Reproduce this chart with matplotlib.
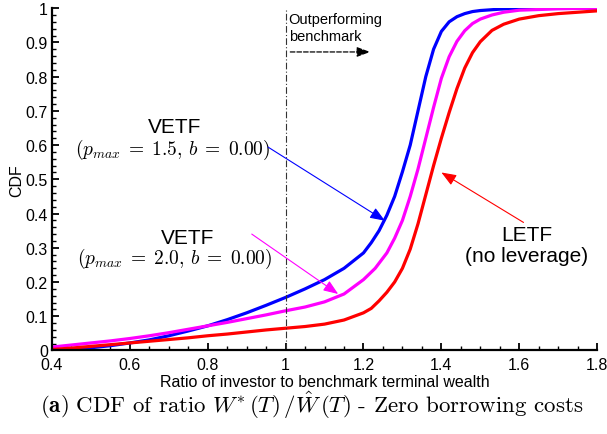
import numpy as np
import matplotlib
matplotlib.use("Agg")
import matplotlib.pyplot as plt
from matplotlib.ticker import MultipleLocator, FormatStrFormatter

plt.rcParams['font.family'] = ['Liberation Sans', 'DejaVu Sans']
plt.rcParams['mathtext.fontset'] = 'cm'

# Data
x_vetf15 = [0.4, 0.45, 0.5, 0.55, 0.6, 0.65, 0.7, 0.75, 0.8, 0.85, 0.9, 0.95, 1.0, 1.05,
            1.1, 1.15, 1.2, 1.22, 1.24, 1.26, 1.28, 1.3, 1.32, 1.34, 1.36, 1.38, 1.4,
            1.42, 1.44, 1.46, 1.48, 1.5, 1.55, 1.6, 1.7, 1.8]
y_vetf15 = [0.0, 0.003, 0.008, 0.014, 0.022, 0.031, 0.043, 0.057, 0.072, 0.09, 0.11,
            0.132, 0.155, 0.18, 0.207, 0.24, 0.285, 0.315, 0.35, 0.395, 0.45, 0.522, 0.60,
            0.70, 0.80, 0.88, 0.932, 0.96, 0.975, 0.984, 0.99, 0.993, 0.997, 0.999, 1.0, 1.0]

x_vetf20 = [0.4, 0.45, 0.5, 0.55, 0.6, 0.65, 0.7, 0.75, 0.8, 0.85, 0.9, 0.95, 1.0, 1.05,
            1.1, 1.15, 1.2, 1.23, 1.26, 1.28, 1.3, 1.32, 1.34, 1.36, 1.38, 1.4, 1.42,
            1.44, 1.46, 1.48, 1.5, 1.53, 1.56, 1.6, 1.7, 1.8]
y_vetf20 = [0.01, 0.016, 0.022, 0.028, 0.035, 0.043, 0.052, 0.062, 0.072, 0.082, 0.093,
            0.104, 0.116, 0.127, 0.142, 0.165, 0.207, 0.24, 0.285, 0.328, 0.38, 0.45, 0.53,
            0.62, 0.71, 0.795, 0.858, 0.903, 0.934, 0.955, 0.968, 0.98, 0.988, 0.994,
            0.998, 1.0]

x_letf = [0.4, 0.45, 0.5, 0.55, 0.6, 0.65, 0.7, 0.75, 0.8, 0.85, 0.9, 0.95, 1.0, 1.05,
          1.1, 1.15, 1.2, 1.22, 1.24, 1.26, 1.28, 1.3, 1.32, 1.34, 1.36, 1.38, 1.4, 1.42,
          1.44, 1.46, 1.48, 1.5, 1.53, 1.56, 1.6, 1.65, 1.7, 1.8]
y_letf = [0.003, 0.007, 0.012, 0.017, 0.022, 0.027, 0.032, 0.037, 0.043, 0.048, 0.054,
          0.06, 0.065, 0.07, 0.077, 0.089, 0.11, 0.123, 0.145, 0.17, 0.2, 0.24, 0.296,
          0.37, 0.455, 0.54, 0.62, 0.695, 0.765, 0.825, 0.87, 0.902, 0.935, 0.953, 0.968,
          0.978, 0.984, 0.992]

x_ticks = [0.4, 0.6, 0.8, 1.0, 1.2, 1.4, 1.6, 1.8]
y_ticks = [0, 0.1, 0.2, 0.3, 0.4, 0.5, 0.6, 0.7, 0.8, 0.9, 1.0]

fig = plt.figure(figsize=(6.07, 4.35), dpi=100)
ax = fig.add_axes([0.0857, 0.192, 0.898, 0.787])

ax.plot(x_vetf15, y_vetf15, color='#0000ff', lw=2.3, solid_joinstyle='round')
ax.plot(x_vetf20, y_vetf20, color='#ff00ff', lw=2.3, solid_joinstyle='round')
ax.plot(x_letf, y_letf, color='#ff0000', lw=2.3, solid_joinstyle='round')

# benchmark line
ax.axvline(1.0, color='#333333', lw=0.8, ls='-.', dashes=(6, 2, 1, 2))

ax.set_xlim(0.4, 1.8)
ax.set_ylim(0, 1)
ax.set_xticks(x_ticks)
ax.set_yticks(y_ticks)
ax.xaxis.set_minor_locator(MultipleLocator(0.05))
ax.yaxis.set_minor_locator(MultipleLocator(0.02))
ax.xaxis.set_major_formatter(FormatStrFormatter('%g'))
ax.yaxis.set_major_formatter(FormatStrFormatter('%g'))

for side in ['top', 'right']:
    ax.spines[side].set_visible(False)
for side in ['left', 'bottom']:
    ax.spines[side].set_linewidth(1.6)
ax.tick_params(which='major', direction='in', length=5, width=1.3, labelsize=11.5)
ax.tick_params(axis='x', which='major', pad=5)
ax.tick_params(axis='y', which='major', pad=3)
ax.tick_params(which='minor', direction='in', length=3, width=1.0)

ax.set_xlabel('Ratio of investor to benchmark terminal wealth', fontsize=11.5, labelpad=1)
ax.set_ylabel('CDF', fontsize=11.5, labelpad=1)

# annotations
arrow_kw = dict(arrowstyle='-|>,head_length=0.9,head_width=0.35', lw=0.8, shrinkA=0, shrinkB=0)

ax.text(0.716, 0.653, 'VETF', fontsize=15, ha='center', va='center')
ax.text(0.711, 0.588, r'$(p_{max}\;=\;1.5,\,b\;=\;0.00)$', fontsize=14, ha='center', va='center')
ax.annotate('', xy=(1.255, 0.379), xytext=(0.955, 0.594),
            arrowprops=dict(color='#0000ff', **arrow_kw))

ax.text(0.749, 0.331, 'VETF', fontsize=15, ha='center', va='center')
ax.text(0.716, 0.27, r'$(p_{max}\;=\;2.0,\,b\;=\;0.00)$', fontsize=14, ha='center', va='center')
ax.annotate('', xy=(1.135, 0.165), xytext=(0.913, 0.34),
            arrowprops=dict(color='#ff00ff', **arrow_kw))

ax.text(1.619, 0.34, 'LETF', fontsize=15, ha='center', va='center')
ax.text(1.619, 0.277, '(no leverage)', fontsize=15, ha='center', va='center')
ax.annotate('', xy=(1.40, 0.52), xytext=(1.611, 0.374),
            arrowprops=dict(color='#ff0000', **arrow_kw))

ax.text(1.008, 0.99, 'Outperforming\nbenchmark', fontsize=10.5, ha='left', va='top',
        linespacing=1.3)
ax.annotate('', xy=(1.217, 0.872), xytext=(1.012, 0.872),
            arrowprops=dict(arrowstyle='-|>,head_length=0.8,head_width=0.3', color='black',
                            lw=0.9, ls='--', shrinkA=0, shrinkB=0))

fig.text(0.513, 0.069,
         r'$\mathbf{(a)}\ \text{CDF of ratio}\ W^{*}\,(T)\,/\hat{W}\,(T)\ \text{- Zero borrowing costs}$',
         fontsize=16.5, ha='center', va='center')

fig.savefig('out.png', dpi=100)
